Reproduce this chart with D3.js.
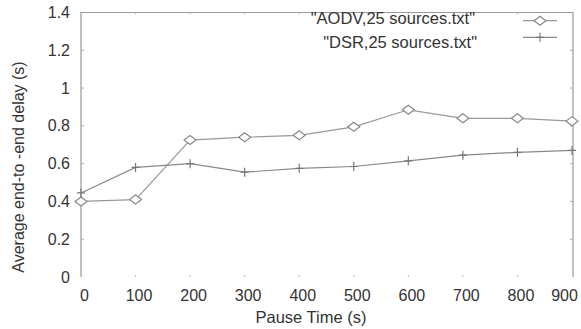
<!doctype html>
<html>
  <head>
    <meta charset="utf-8">
    <title>Average end-to-end delay</title>
    <script src="https://cdnjs.cloudflare.com/ajax/libs/d3/7.8.5/d3.min.js"></script>
    <style>
      body { margin: 0; background: #fff; }
      text { font-family: "Liberation Sans", Arial, sans-serif; fill: #333; }
    </style>
  </head>
  <body>
    <div id="chart"></div>
    <script>
      // data
      const pauseTimes = [0, 100, 200, 300, 400, 500, 600, 700, 800, 900];
      const aodv = [0.40, 0.41, 0.725, 0.74, 0.75, 0.795, 0.885, 0.84, 0.84, 0.825];
      const dsr = [0.445, 0.58, 0.60, 0.555, 0.575, 0.585, 0.615, 0.645, 0.66, 0.67];
      const yTicks = [0, 0.2, 0.4, 0.6, 0.8, 1, 1.2, 1.4];
      const seriesNames = ['"AODV,25 sources.txt"', '"DSR,25 sources.txt"'];

      const W = 581, H = 329;
      const pLeft = 81, pRight = 572, pTop = 12.5, pBottom = 277;

      const x = d3.scaleLinear().domain([0, 900]).range([pLeft, pRight]);
      const y = d3.scaleLinear().domain([0, 1.4]).range([pBottom, pTop]);

      const svg = d3.select('#chart').append('svg')
        .attr('width', W).attr('height', H);

      // frame: left, top, right (no bottom line)
      svg.append('path')
        .attr('d', `M${pLeft},${pBottom}V${pTop}H${573}V${pBottom}`)
        .attr('fill', 'none').attr('stroke', '#999').attr('stroke-width', 1.2);

      // y axis
      const yAxis = svg.append('g').attr('transform', `translate(${pLeft},0)`)
        .call(d3.axisLeft(y).tickValues(yTicks).tickSize(0).tickPadding(11)
          .tickFormat(d => String(+d.toFixed(1))));
      yAxis.select('.domain').remove();
      yAxis.selectAll('text').attr('font-size', 16).attr('fill', '#333')
        .attr('font-family', '"Liberation Sans", Arial, sans-serif');

      // inward tick marks, left and right
      svg.append('g').selectAll('line').data(yTicks.slice(1, -1)).join('line')
        .attr('x1', pLeft).attr('x2', pLeft + 3)
        .attr('y1', d => y(d)).attr('y2', d => y(d))
        .attr('stroke', '#aaa');
      svg.append('g').selectAll('line').data(yTicks.slice(1, -1)).join('line')
        .attr('x1', 573).attr('x2', 570)
        .attr('y1', d => y(d)).attr('y2', d => y(d))
        .attr('stroke', '#aaa');

      // x axis
      const xAxis = svg.append('g').attr('transform', `translate(0,${pBottom})`)
        .call(d3.axisBottom(x).tickValues(pauseTimes).tickSize(0).tickPadding(13));
      xAxis.select('.domain').remove();
      xAxis.selectAll('text').attr('font-size', 16).attr('fill', '#333')
        .attr('font-family', '"Liberation Sans", Arial, sans-serif')
        .attr('dx', (d, i) => i === pauseTimes.length - 1 ? -8 : 3);

      // dotted x ticks at bottom and top
      svg.append('g').selectAll('line').data(pauseTimes.slice(1, -1)).join('line')
        .attr('x1', d => x(d)).attr('x2', d => x(d))
        .attr('y1', pBottom).attr('y2', pBottom - 2)
        .attr('stroke', '#bbb');
      svg.append('g').selectAll('line').data(pauseTimes.slice(1, -1)).join('line')
        .attr('x1', d => x(d)).attr('x2', d => x(d))
        .attr('y1', pTop).attr('y2', pTop + 2)
        .attr('stroke', '#bbb');

      // axis titles
      svg.append('text')
        .attr('x', 311).attr('y', 323)
        .attr('text-anchor', 'middle').attr('font-size', 16.5)
        .text('Pause Time (s)');
      svg.append('text')
        .attr('transform', 'translate(24,167) rotate(-90)')
        .attr('text-anchor', 'middle').attr('font-size', 16)
        .text('Average end-to -end delay (s)');

      const line = d3.line().x((d, i) => x(pauseTimes[i])).y(d => y(d));

      // AODV
      svg.append('path').datum(aodv)
        .attr('d', line).attr('fill', 'none')
        .attr('stroke', '#999').attr('stroke-width', 1.2);
      const diamond = (cx, cy) => `M${cx - 6},${cy}L${cx},${cy - 4.5}L${cx + 6},${cy}L${cx},${cy + 4.5}Z`;
      svg.append('g').selectAll('path').data(aodv).join('path')
        .attr('d', (d, i) => diamond(x(pauseTimes[i]), y(d)))
        .attr('fill', '#fff').attr('stroke', '#888').attr('stroke-width', 1.2);

      // DSR
      svg.append('path').datum(dsr)
        .attr('d', line).attr('fill', 'none')
        .attr('stroke', '#888').attr('stroke-width', 1.2);
      const plus = (cx, cy) => `M${cx - 4},${cy}H${cx + 4}M${cx},${cy - 4.5}V${cy + 4.5}`;
      svg.append('g').selectAll('path').data(dsr).join('path')
        .attr('d', (d, i) => plus(x(pauseTimes[i]), y(d)))
        .attr('fill', 'none').attr('stroke', '#777').attr('stroke-width', 1.2);

      // legend
      const legendY = [20.7, 37.3];
      const legend = svg.append('g');
      legend.selectAll('text').data(seriesNames).join('text')
        .attr('x', (d, i) => i ? 477 : 475)
        .attr('y', (d, i) => i ? 47.5 : 23.5)
        .attr('text-anchor', 'end').attr('font-size', 16.5)
        .text(d => d);
      legend.selectAll('line').data(seriesNames).join('line')
        .attr('x1', 523).attr('x2', 557)
        .attr('y1', (d, i) => legendY[i]).attr('y2', (d, i) => legendY[i])
        .attr('stroke', (d, i) => i ? '#888' : '#999').attr('stroke-width', 1.2);
      legend.append('path').attr('d', diamond(540, legendY[0]))
        .attr('fill', '#fff').attr('stroke', '#888').attr('stroke-width', 1.2);
      legend.append('path').attr('d', plus(540, legendY[1]))
        .attr('fill', 'none').attr('stroke', '#777').attr('stroke-width', 1.2);
    </script>
  </body>
</html>
